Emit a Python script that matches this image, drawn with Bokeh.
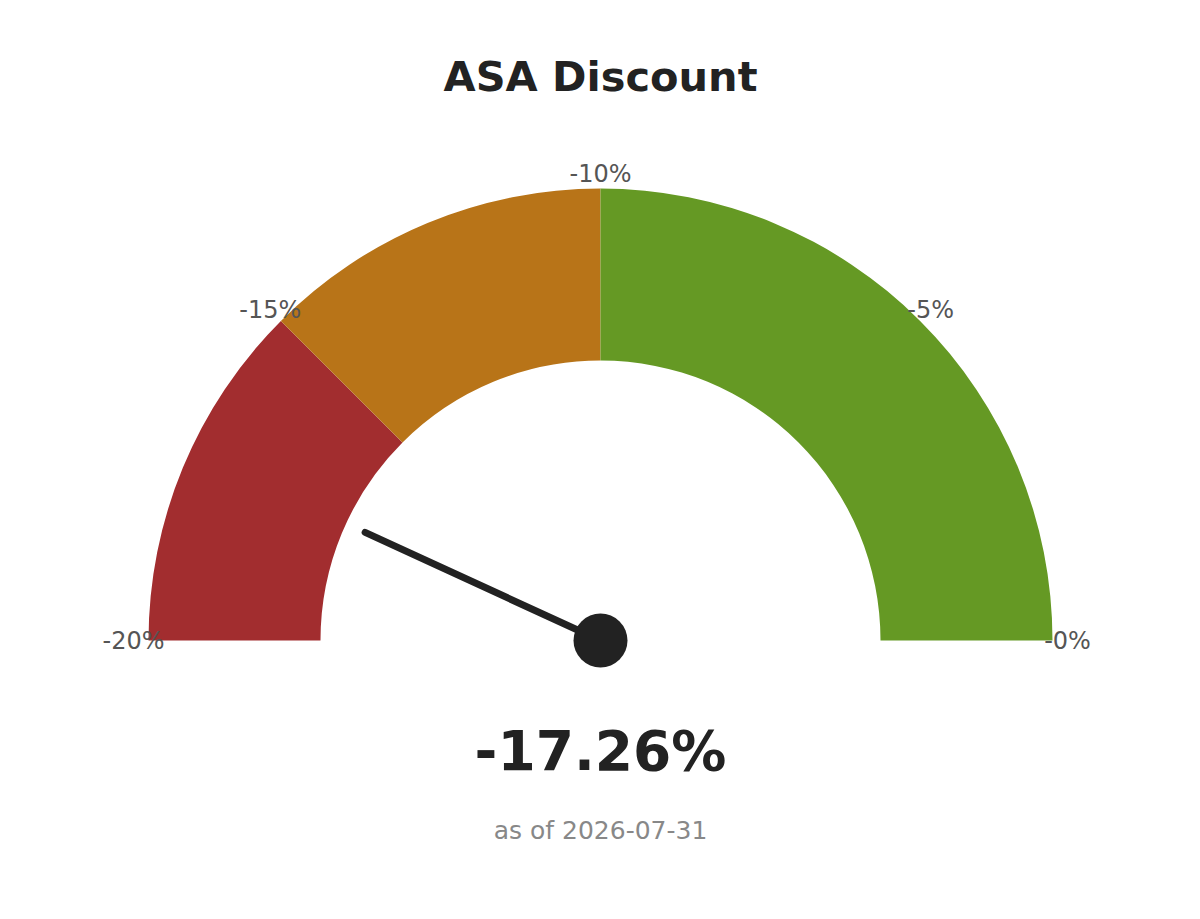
import math
from bokeh.plotting import figure
from bokeh.models import Range1d, ColumnDataSource
from bokeh.core.properties import value
from bokeh.embed import file_html
from bokeh.resources import INLINE

title = "ASA Discount"
subtitle = "as of 2026-07-31"
gauge_min = -20.0
gauge_max = 0.0
current_value = -17.26
band_starts = [-20.0, -15.0, -10.0]
band_ends = [-15.0, -10.0, 0.0]
band_colors = ["#A22D2F", "#B87418", "#659924"]
tick_values = [-20, -15, -10, -5, 0]
tick_labels = ["-20%", "-15%", "-10%", "-5%", "-0%"]

FONT = "DejaVu Sans"
R_OUT, R_IN, R_LAB, R_NEEDLE = 452, 280, 467, 259


def to_angle(v):
    return math.pi * (gauge_max - v) / (gauge_max - gauge_min)


p = figure(width=1184, height=903, output_backend="svg", toolbar_location=None,
           x_range=Range1d(-600, 584), y_range=Range1d(-263, 640),
           min_border=0, outline_line_color=None)
p.axis.visible = False
p.grid.visible = False
p.background_fill_color = "white"
p.border_fill_color = "white"

bands = ColumnDataSource(dict(
    start=[to_angle(e) for e in band_ends],
    end=[to_angle(s) for s in band_starts],
    color=band_colors,
))
p.annular_wedge(x=0, y=0, inner_radius=R_IN, outer_radius=R_OUT,
                start_angle="start", end_angle="end", fill_color="color",
                line_color=None, source=bands)

ticks = ColumnDataSource(dict(
    x=[R_LAB * math.cos(to_angle(v)) for v in tick_values],
    y=[R_LAB * math.sin(to_angle(v)) for v in tick_values],
    t=tick_labels,
))
p.text(x="x", y="y", text="t", source=ticks, text_align="center",
       text_baseline="middle", text_font=value(FONT), text_font_size="24px",
       text_color="#555555")

a = to_angle(current_value)
p.line(x=[0, R_NEEDLE * math.cos(a)], y=[0, R_NEEDLE * math.sin(a)],
       line_width=7, line_color="#222222", line_cap="round")
p.scatter(x=[0], y=[0], size=54, marker="circle", fill_color="#222222",
          line_color=None)

p.text(x=[0], y=[564], text=[title], text_align="center", text_baseline="middle",
       text_font=value(FONT), text_font_style="bold", text_font_size="41.5px",
       text_color="#222222")
p.text(x=[0], y=[-110], text=[f"{current_value:.2f}%"], text_align="center",
       text_baseline="middle", text_font=value(FONT), text_font_style="bold",
       text_font_size="55px", text_color="#222222")
p.text(x=[0], y=[-190], text=[subtitle], text_align="center",
       text_baseline="middle", text_font=value(FONT), text_font_size="25px",
       text_color="#888888")

open("out.html", "w").write(file_html(p, INLINE))
